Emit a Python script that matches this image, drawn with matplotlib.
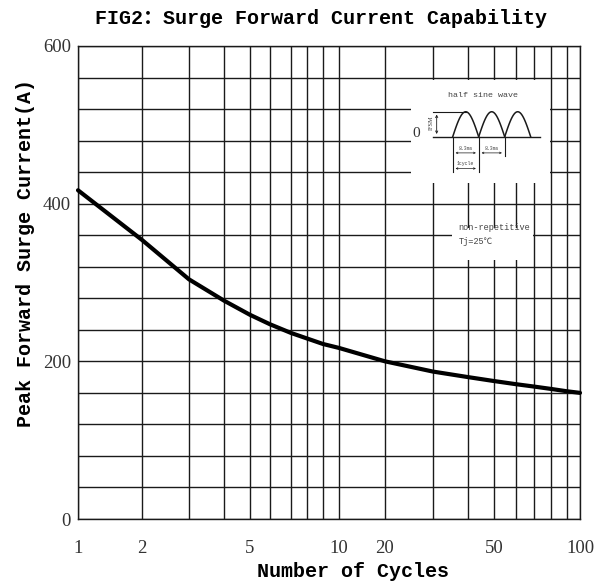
import numpy as np
import matplotlib
matplotlib.use("Agg")
from matplotlib import pyplot as plt
from matplotlib.patches import Rectangle

# curve
cycles = [1, 2, 3, 4, 5, 6, 7, 8, 9, 10, 20, 30, 40, 50, 60, 70, 80, 90, 100]
current = [417, 354, 304, 277, 259, 247, 236, 229, 222, 217,
           200, 187, 180, 175, 171, 168, 165, 162, 160]

x_ticks = [1, 2, 5, 10, 20, 50, 100]
y_ticks = [0, 200, 400, 600]

# the printed grid is a hand drawn "log" paper, so map cycles onto it piecewise
grid_cycles = [1, 2, 3, 4, 5, 6, 7, 8, 9, 10, 20, 30, 40, 50, 60, 70, 80, 90, 100]
grid_px = [78, 142, 189, 224, 250, 270, 291, 307, 323, 339,
           385, 433, 468, 494, 516, 534, 551, 567, 580]
grid_frac = [(p - 78) / 502 for p in grid_px]


def fwd(x):
    return np.interp(x, grid_cycles, grid_frac)


def inv(x):
    return np.interp(x, grid_frac, grid_cycles)


mono = ["Liberation Mono", "Noto Sans CJK SC", "DejaVu Sans"]
ink = "#1a1a1a"

fig = plt.figure(figsize=(5.96, 5.86), dpi=100)
ax = fig.add_axes([78 / 596, 67 / 586, 502 / 596, 473 / 586])

ax.set_xscale("function", functions=(fwd, inv))
ax.set_xlim(1, 100)
ax.set_ylim(0, 600)

ax.set_xticks(x_ticks)
ax.set_xticklabels([str(t) for t in x_ticks])
ax.set_xticks([c for c in grid_cycles if c not in x_ticks], minor=True)
ax.set_yticks(y_ticks)
ax.set_yticks(np.arange(0, 601, 40), minor=True)

ax.grid(True, which="both", color=ink, linewidth=1.0)
ax.set_axisbelow(True)
for s in ax.spines.values():
    s.set_color(ink)
    s.set_linewidth(1.0)

ax.tick_params(which="both", length=0)
ax.tick_params(axis="x", pad=15)
ax.tick_params(axis="y", pad=5)
for lab in ax.get_xticklabels() + ax.get_yticklabels():
    lab.set_fontfamily("Liberation Serif")
    lab.set_fontsize(13.5)
    lab.set_color("#333333")

ax.plot(cycles, current, color="black", linewidth=3.0, zorder=4,
        solid_capstyle="round", solid_joinstyle="round", clip_on=False)

# white patches where the inset drawing sits
T = ax.transAxes
ax.add_patch(Rectangle((0.663, 0.711), 0.277, 0.217, transform=T,
                       facecolor="white", edgecolor="none", zorder=2))
ax.add_patch(Rectangle((0.745, 0.547), 0.161, 0.068, transform=T,
                       facecolor="white", edgecolor="none", zorder=2))

# half sine sketch
ax.text(0.807, 0.896, "half sine wave", transform=T, ha="center", va="center",
        fontsize=6, family=mono, color="#444444", zorder=3)
ax.text(0.673, 0.816, "0", transform=T, ha="center", va="center",
        fontsize=11, family="Liberation Serif", color="#333333", zorder=3)
ax.plot([0.707, 0.920], [0.808, 0.808], transform=T, color=ink, lw=1.0, zorder=3)
t = np.linspace(0, np.pi, 40)
for k in range(3):
    x0 = 0.7464 + k * 0.0518
    ax.plot(x0 + t / np.pi * 0.0518, 0.808 + 0.053 * np.sin(t), transform=T,
            color=ink, lw=1.1, zorder=3)
ax.plot([0.707, 0.772], [0.861, 0.861], transform=T, color=ink, lw=0.8, zorder=3)
ax.annotate("", xy=(0.7145, 0.861), xytext=(0.7145, 0.808), xycoords=T, textcoords=T,
            arrowprops=dict(arrowstyle="<->", lw=0.6, color=ink, mutation_scale=4),
            zorder=3)
ax.text(0.703, 0.837, "IFSM", transform=T, ha="center", va="center", rotation=90,
        fontsize=4.5, family="Liberation Serif", color="#333333", zorder=3)
for xv, yb in [(0.7464, 0.734), (0.7982, 0.734), (0.8500, 0.767)]:
    ax.plot([xv, xv], [0.808, yb], transform=T, color=ink, lw=0.8, zorder=3)
for xa, xb in [(0.7464, 0.7982), (0.7982, 0.8500)]:
    ax.annotate("", xy=(xb, 0.774), xytext=(xa, 0.774), xycoords=T, textcoords=T,
                arrowprops=dict(arrowstyle="<->", lw=0.5, color=ink, mutation_scale=3),
                zorder=3)
    ax.text((xa + xb) / 2, 0.783, "8.3ms", transform=T, ha="center", va="center",
            fontsize=3.5, family=mono, color="#444444", zorder=3)
ax.annotate("", xy=(0.7982, 0.741), xytext=(0.7464, 0.741), xycoords=T, textcoords=T,
            arrowprops=dict(arrowstyle="<->", lw=0.5, color=ink, mutation_scale=3),
            zorder=3)
ax.text(0.7723, 0.751, "1cycle", transform=T, ha="center", va="center",
        fontsize=3.5, family=mono, color="#444444", zorder=3)

ax.text(0.7576, 0.616, "non-repetitive", transform=T, ha="left", va="center",
        fontsize=6.2, family=mono, color="#444444", zorder=3)
ax.text(0.7576, 0.586, "Tj=25℃", transform=T, ha="left", va="center",
        fontsize=6.2, family=mono, color="#444444", zorder=3)

fig.text(321 / 596, 1 - 18 / 586, "FIG2：Surge Forward Current Capability",
         ha="center", va="center", fontsize=14.4, fontweight="bold", family=mono)
ax.set_xlabel("Number of Cycles", fontsize=14.4, fontweight="bold", family=mono)
ax.xaxis.set_label_coords((353 - 78) / 502, (519 - 562) / 473)
ax.set_ylabel("Peak Forward Surge Current(A)", fontsize=14.4, fontweight="bold",
              family=mono)
ax.yaxis.set_label_coords((35 - 78) / 502, (519 - 253) / 473)

fig.savefig("out.png", dpi=100)
